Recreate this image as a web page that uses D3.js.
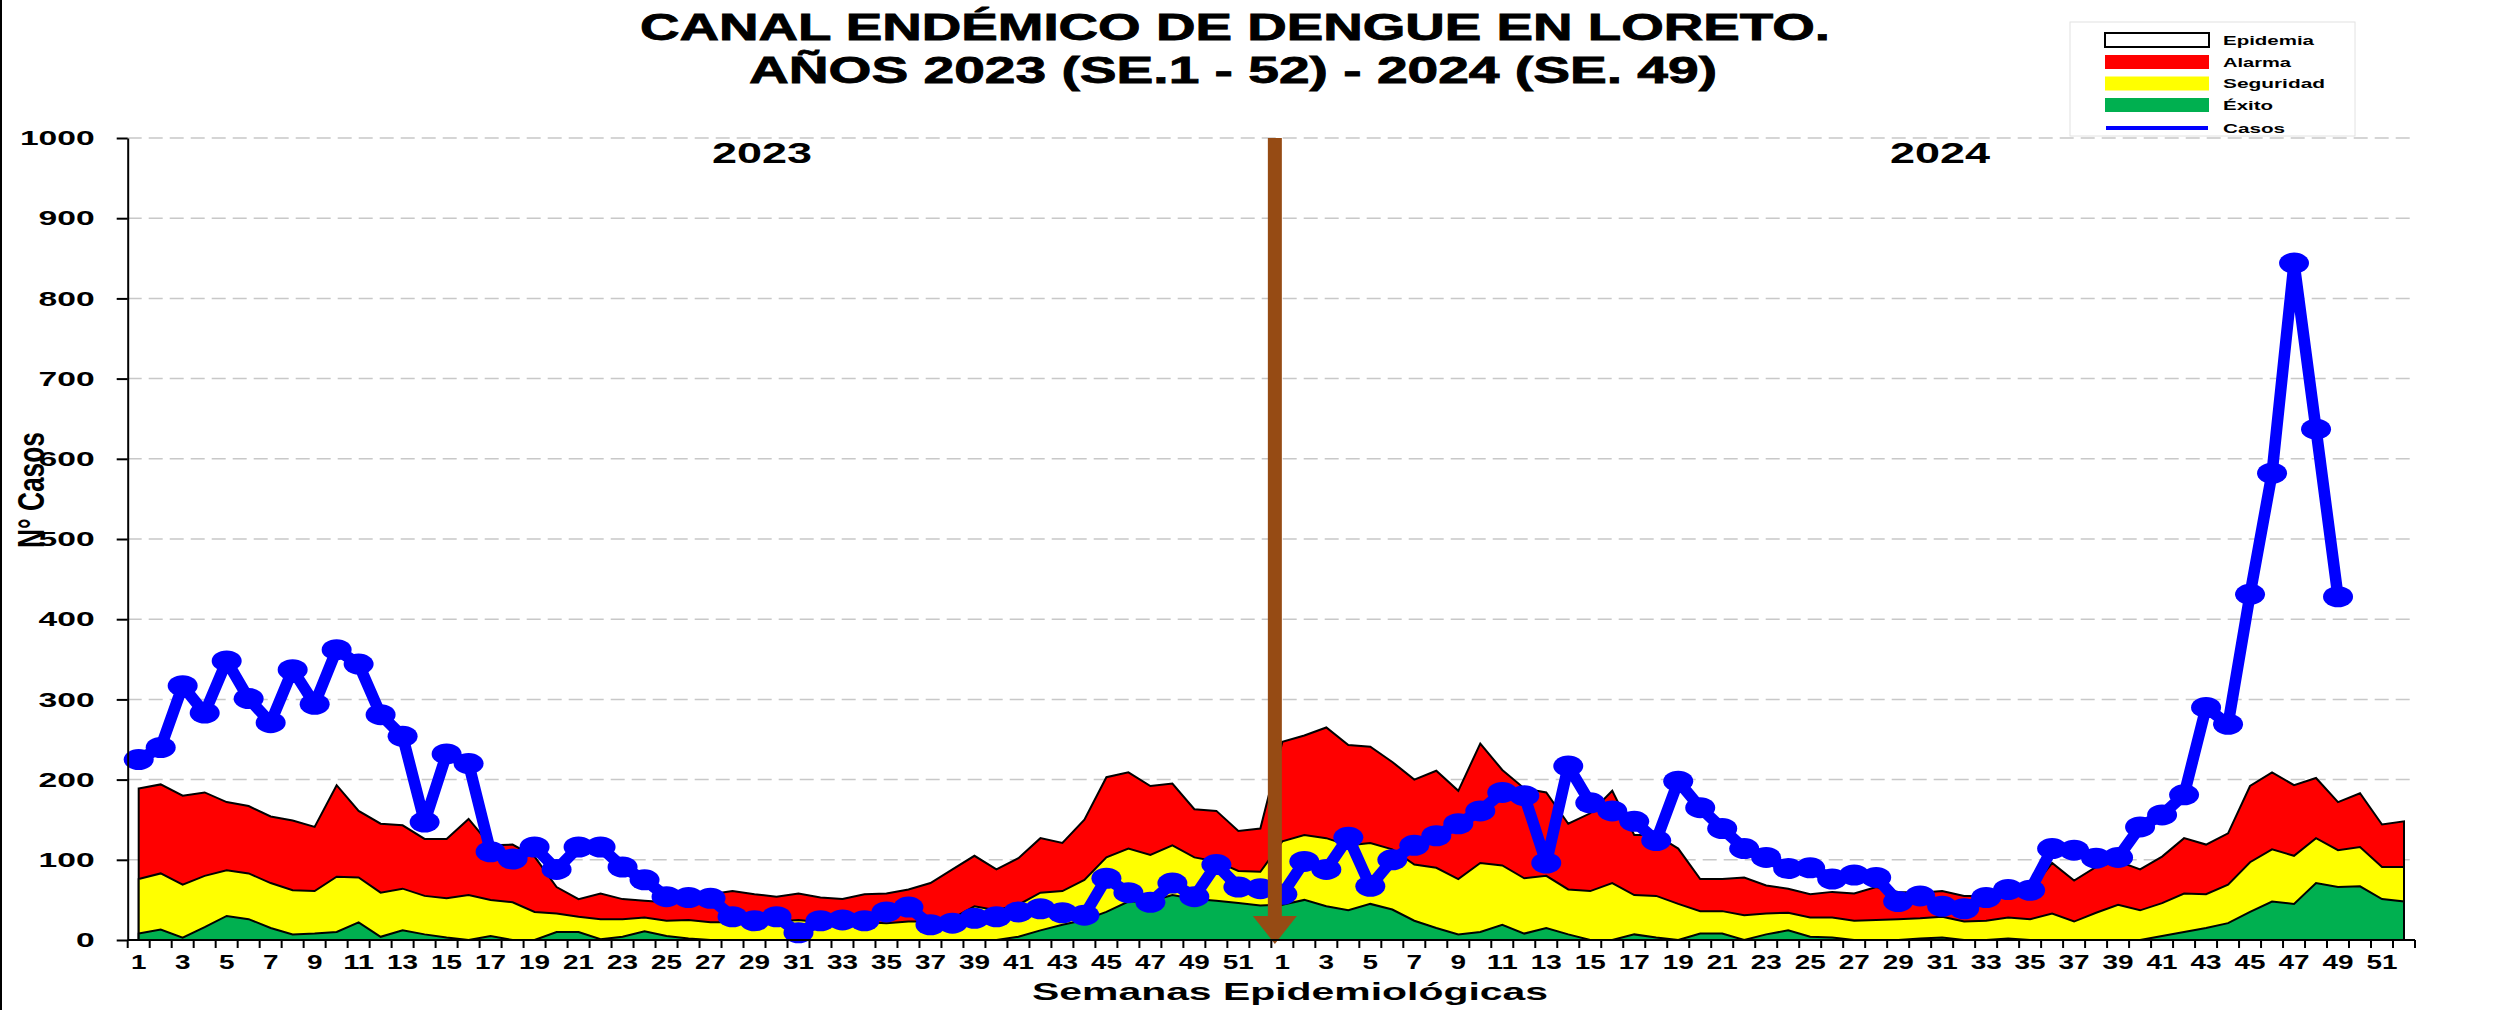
<!DOCTYPE html>
<html>
<head>
<meta charset="utf-8">
<script src="https://cdn.jsdelivr.net/npm/d3@7"></script>
<style>
  html, body { margin: 0; padding: 0; background: #fff; }
  svg { display: block; font-family: "Liberation Sans", Arial, sans-serif; }
</style>
</head>
<body>
<svg id="chart" width="2496" height="1010"></svg>
<script>
// semanas epidemiologicas 1..52 (2023 y 2024)
const weekLabels = d3.range(1, 53);

// casos notificados
const casos2023 = [225, 240, 317, 283, 348, 301, 271, 337, 294, 362, 344, 281, 254, 147, 232, 220,
  110, 101, 116, 88, 116, 116, 91, 75, 54, 53, 52, 29, 24, 29, 9, 24, 25, 24, 35, 41,
  19, 21, 27, 29, 35, 39, 34, 31, 77, 59, 47, 71, 54, 94, 66, 64];
const casos2024 = [57, 98, 88, 128, 67, 100, 118, 130, 145, 161, 184, 180, 96, 217, 171, 161,
  148, 124, 198, 165, 139, 114, 103, 89, 90, 76, 81, 78, 48, 55, 42, 39, 53, 63, 62, 114,
  112, 102, 103, 141, 156, 181, 290, 269, 431, 582, 844, 637, 428];

// limites del canal endemico (techo de cada zona)
const exito2023 = [8, 13, 3, 16, 30, 26, 15, 7, 8, 10, 22, 4, 12, 7, 3, 0, 5, 0, 0, 10, 10, 1, 4, 11, 5, 2,
  0, 0, 0, 0, 0, 0, 0, 0, 0, 0, 0, 0, 0, 0, 4, 12, 19, 25, 35, 48, 48, 56, 51, 49, 46, 43];
const seguridad2023 = [76, 83, 69, 80, 87, 83, 71, 62, 61, 79, 78, 59, 64, 55, 52, 56, 50, 47, 35, 33, 29, 26,
  26, 28, 24, 25, 22, 22, 23, 23, 25, 22, 22, 22, 21, 23, 23, 27, 42, 37, 44, 59, 61, 75, 103, 114,
  106, 118, 103, 98, 86, 85];
const alarma2023 = [189, 194, 180, 184, 172, 167, 154, 149, 141, 193, 161, 145, 143, 126, 126, 151, 118, 119,
  104, 66, 51, 58, 51, 49, 47, 50, 57, 61, 57, 54, 58, 53, 51, 57, 58, 63, 71, 88, 105, 88, 102, 127,
  121, 150, 203, 209, 192, 195, 163, 161, 136, 139];

const exito2024 = [44, 50, 42, 37, 45, 38, 24, 15, 7, 10, 19, 8, 15, 7, 0, 0, 7, 3, 0, 8, 8, 0, 7, 12, 4, 3,
  0, 0, 0, 2, 3, 0, 0, 2, 0, 0, 0, 0, 0, 0, 5, 10, 15, 21, 35, 48, 45, 71, 66, 67, 51, 48];
const seguridad2024 = [123, 131, 127, 118, 121, 113, 94, 90, 76, 96, 93, 77, 80, 63, 61, 71, 56, 55, 45, 36, 36,
  31, 33, 34, 28, 28, 24, 25, 26, 27, 29, 23, 24, 28, 26, 33, 23, 34, 44, 37, 46, 58, 57, 69, 97, 113,
  105, 127, 112, 116, 91, 91];
const alarma2024 = [247, 255, 265, 243, 241, 222, 200, 211, 186, 245, 212, 189, 184, 145, 158, 186, 131, 131,
  114, 76, 76, 78, 68, 64, 57, 60, 58, 66, 60, 59, 61, 55, 55, 57, 62, 96, 74, 91, 98, 88, 104, 127,
  119, 133, 192, 209, 193, 202, 172, 183, 144, 148];

const yTicks = d3.range(0, 1001, 100);
const legendItems = ["Epidemia", "Alarma", "Seguridad", "Éxito", "Casos"];

const exito = exito2023.concat(exito2024);
const seguridad = seguridad2023.concat(seguridad2024);
const alarma = alarma2023.concat(alarma2024);
const casos = casos2023.concat(casos2024);

const plot = { left: 127.7, right: 2415, top: 138, bottom: 940 };
const svg = d3.select("#chart");

const idx = d3.range(104);
const x = d3.scaleBand().domain(idx).range([plot.left, plot.right]);
const xc = i => x(i) + x.bandwidth() / 2;
const y = d3.scaleLinear().domain([0, 1000]).range([plot.bottom, plot.top]);

// borde izquierdo
svg.append("line").attr("x1", 1).attr("x2", 1).attr("y1", 0).attr("y2", 1010)
  .attr("stroke", "#000").attr("stroke-width", 2);

// grid
svg.append("g").selectAll("line")
  .data(yTicks.slice(1))
  .join("line")
  .attr("x1", plot.left).attr("x2", plot.right)
  .attr("y1", d => y(d)).attr("y2", d => y(d))
  .attr("stroke", "#c8c8c8").attr("stroke-width", 1.5)
  .attr("stroke-dasharray", "14,7");

// zonas
const area = d3.area()
  .x((d, i) => xc(i))
  .y0(y(0))
  .y1(d => y(d));

const zones = [
  { values: alarma, color: "#ff0000" },
  { values: seguridad, color: "#ffff00" },
  { values: exito, color: "#00b050" }
];
svg.append("g").selectAll("path")
  .data(zones)
  .join("path")
  .attr("d", d => area(d.values))
  .attr("fill", d => d.color)
  .attr("stroke", "#000")
  .attr("stroke-width", 2);

// casos
const line = d3.line().x((d, i) => xc(i)).y(d => y(d));
svg.append("path")
  .attr("d", line(casos))
  .attr("fill", "none")
  .attr("stroke", "#0000ff")
  .attr("stroke-width", 11.5)
  .attr("stroke-linejoin", "round");

svg.append("g").selectAll("ellipse")
  .data(casos)
  .join("ellipse")
  .attr("cx", (d, i) => xc(i))
  .attr("cy", d => y(d))
  .attr("rx", 15)
  .attr("ry", 10.5)
  .attr("fill", "#0000ff");

// flecha de cambio de año
const arrowX = x(52) + 3.5;
const arrowColor = "#964b14";
svg.append("rect")
  .attr("x", arrowX - 7).attr("y", y(1000))
  .attr("width", 14).attr("height", 916 - y(1000))
  .attr("fill", arrowColor);
svg.append("path")
  .attr("d", `M${arrowX - 22},916 L${arrowX + 22},916 L${arrowX},${plot.bottom + 4} Z`)
  .attr("fill", arrowColor);

// eje Y
const yAxis = svg.append("g")
  .attr("transform", `translate(${plot.left},0)`)
  .call(d3.axisLeft(y).tickValues(yTicks).tickFormat(d3.format("d"))
    .tickSize(11).tickSizeOuter(0).tickPadding(22));
yAxis.selectAll("path, line").attr("stroke", "#000").attr("stroke-width", 2);
yAxis.selectAll("text")
  .attr("font-size", 21).attr("font-weight", "bold").attr("fill", "#000")
  .attr("font-family", "Liberation Sans, Arial, sans-serif")
  .attr("textLength", d => String(d).length * 18.7)
  .attr("lengthAdjust", "spacingAndGlyphs");

// eje X
const xAxis = svg.append("g")
  .attr("transform", `translate(0,${plot.bottom})`)
  .call(d3.axisBottom(x)
    .tickValues(idx.filter(i => i % 2 === 0))
    .tickFormat(i => weekLabels[i % 52])
    .tickSize(0).tickPadding(14));
xAxis.select(".domain").remove();
xAxis.selectAll("text")
  .attr("font-size", 21).attr("font-weight", "bold").attr("fill", "#000")
  .attr("font-family", "Liberation Sans, Arial, sans-serif")
  .attr("textLength", i => String(weekLabels[i % 52]).length * 15.5)
  .attr("lengthAdjust", "spacingAndGlyphs");

svg.append("g").selectAll("line")
  .data(d3.range(105))
  .join("line")
  .attr("x1", i => plot.left + i * x.step()).attr("x2", i => plot.left + i * x.step())
  .attr("y1", plot.bottom).attr("y2", plot.bottom + 8)
  .attr("stroke", "#000").attr("stroke-width", 2);
svg.append("line")
  .attr("x1", plot.left).attr("x2", plot.right)
  .attr("y1", plot.bottom).attr("y2", plot.bottom)
  .attr("stroke", "#000").attr("stroke-width", 2);

// textos
function label(txt, px, py, size, len, weight, anchor) {
  return svg.append("text")
    .attr("x", px).attr("y", py)
    .attr("font-size", size)
    .attr("font-weight", weight || "bold")
    .attr("text-anchor", anchor || "middle")
    .attr("textLength", len)
    .attr("lengthAdjust", "spacingAndGlyphs")
    .text(txt);
}
label("CANAL ENDÉMICO DE DENGUE EN LORETO.", 1235, 40, 36, 1190)
  .attr("stroke", "#000").attr("stroke-width", 0.8);
label("AÑOS 2023 (SE.1 - 52) - 2024 (SE. 49)", 1233, 83, 36, 968)
  .attr("stroke", "#000").attr("stroke-width", 0.8);
label("Semanas Epidemiológicas", 1290, 1000, 24, 516);
label("2023", 762, 163, 30, 100);
label("2024", 1940, 163, 30, 100);
label("N° Casos", 0, 0, 36, 116, "bold")
  .attr("transform", "translate(44,490) rotate(-90)");

// leyenda
const lg = svg.append("g");
lg.append("rect").attr("x", 2070).attr("y", 22).attr("width", 285).attr("height", 114)
  .attr("fill", "#fff").attr("stroke", "#e2e2e2").attr("stroke-width", 1);
const legendFill = ["#fff", "#ff0000", "#ffff00", "#00b050"];
const legendY = [40, 62, 83.5, 105, 128];
const legendLen = [91, 68, 102, 50, 62];
legendItems.forEach((name, i) => {
  if (i < 4) {
    lg.append("rect").attr("x", 2105).attr("y", legendY[i] - 7).attr("width", 104).attr("height", 14)
      .attr("fill", legendFill[i])
      .attr("stroke", i === 0 ? "#000" : "none").attr("stroke-width", 2);
  } else {
    lg.append("rect").attr("x", 2106).attr("y", legendY[i] - 2).attr("width", 102).attr("height", 4)
      .attr("fill", "#0000ff");
  }
  lg.append("text")
    .attr("x", 2223).attr("y", legendY[i] + 4.7)
    .attr("font-size", 13).attr("font-weight", "bold")
    .attr("textLength", legendLen[i]).attr("lengthAdjust", "spacingAndGlyphs")
    .text(name);
});
</script>
</body>
</html>
